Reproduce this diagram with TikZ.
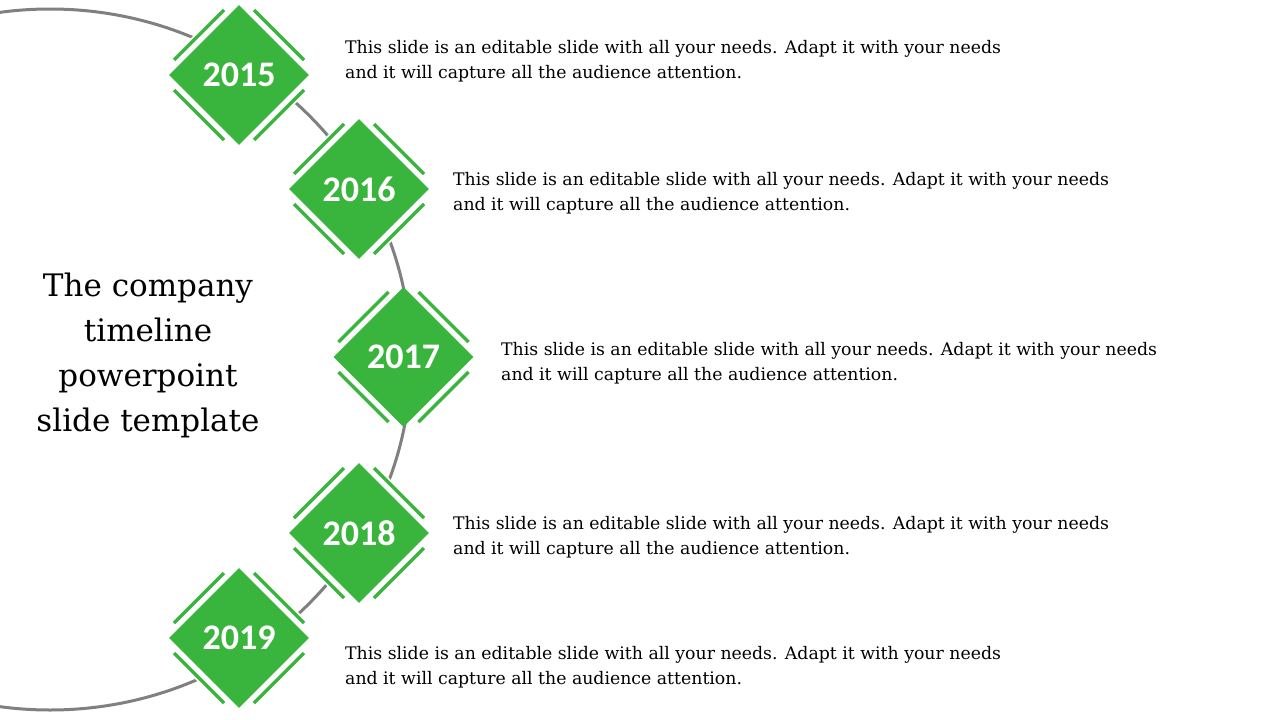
\documentclass[tikz,border=0pt]{standalone}
\usepackage{fontspec}
\setmainfont{DejaVu Serif}
\newfontfamily\titlefont{DejaVu Serif}
\newfontfamily\yearfont{Carlito}
\usetikzlibrary{shapes.geometric}
\definecolor{tlgreen}{RGB}{57,181,61}
\definecolor{tlgray}{RGB}{128,128,128}
\begin{document}
\begin{tikzpicture}[x=1pt,y=-1pt,
  yearbox/.style={diamond, aspect=1, fill=tlgreen, draw=none,
    minimum width=140pt, minimum height=140pt, inner sep=0pt,
    text=white, font=\yearfont\bfseries\fontsize{36}{36}\selectfont},
  bracket/.style={draw=tlgreen, line width=3.3pt},
  halo/.style={draw=white, line width=14pt},
  arcline/.style={draw=tlgray, line width=3pt},
  note/.style={anchor=north west, align=left, inner sep=0pt,
    font=\fontsize{17.3}{25}\selectfont},
  titletext/.style={anchor=north, align=center, inner sep=0pt,
    font=\titlefont\fontsize{31}{45}\selectfont}]
\useasboundingbox[fill=white] (0,0) rectangle (1280,720);
% centres of the year diamonds
\coordinate (c15) at (239,75);
\coordinate (c16) at (359,189);
\coordinate (c17) at (403.5,357);
\coordinate (c18) at (359,533);
\coordinate (c19) at (239,638);
% gray arc
\begin{scope}
  \clip (0,0) rectangle (1280,720);
  \draw[arcline] (50,359.5) ellipse [x radius=361, y radius=350.5];
\end{scope}
% white halos under the brackets that interrupt the arc
\foreach \c in {c15,c16,c17,c18,c19}{
  \draw[halo] (\c) ++(-62.5,-12.5) -- ++(50,-50);
  \draw[halo] (\c) ++(12.5,-62.5) -- ++(50,50);
  \draw[halo] (\c) ++(-62.5,12.5) -- ++(50,50);
  \draw[halo] (\c) ++(12.5,62.5) -- ++(50,-50);
}
% year diamonds
\node[yearbox] (y15) at (c15) {\raisebox{-1.5pt}{2015}};
\node[yearbox] (y16) at (c16) {\raisebox{-1.5pt}{2016}};
\node[yearbox] (y17) at (c17) {\raisebox{-1.5pt}{2017}};
\node[yearbox] (y18) at (c18) {\raisebox{-1.5pt}{2018}};
\node[yearbox] (y19) at (c19) {\raisebox{-1.5pt}{2019}};
% brackets around each diamond
\foreach \n in {y15,y16,y17,y18,y19}{
  \draw[bracket] (\n.center) ++(-65,-15) -- ++(50,-50);
  \draw[bracket] (\n.center) ++(15,-65) -- ++(50,50);
  \draw[bracket] (\n.center) ++(-65,15) -- ++(50,50);
  \draw[bracket] (\n.center) ++(15,65) -- ++(50,-50);
}
% title
\node[titletext] (title) at (148,272.4)
  {The company\\timeline\\powerpoint\\slide template};
% notes
\node[note] (n15) at (345,39.9)
  {This slide is an editable slide with all your needs. Adapt it with your needs\\and it will capture all the audience attention.};
\node[note] (n16) at (453,171.9)
  {This slide is an editable slide with all your needs. Adapt it with your needs\\and it will capture all the audience attention.};
\node[note] (n17) at (501,341.9)
  {This slide is an editable slide with all your needs. Adapt it with your needs\\and it will capture all the audience attention.};
\node[note] (n18) at (453,515.9)
  {This slide is an editable slide with all your needs. Adapt it with your needs\\and it will capture all the audience attention.};
\node[note] (n19) at (345,645.9)
  {This slide is an editable slide with all your needs. Adapt it with your needs\\and it will capture all the audience attention.};
\end{tikzpicture}
\end{document}
